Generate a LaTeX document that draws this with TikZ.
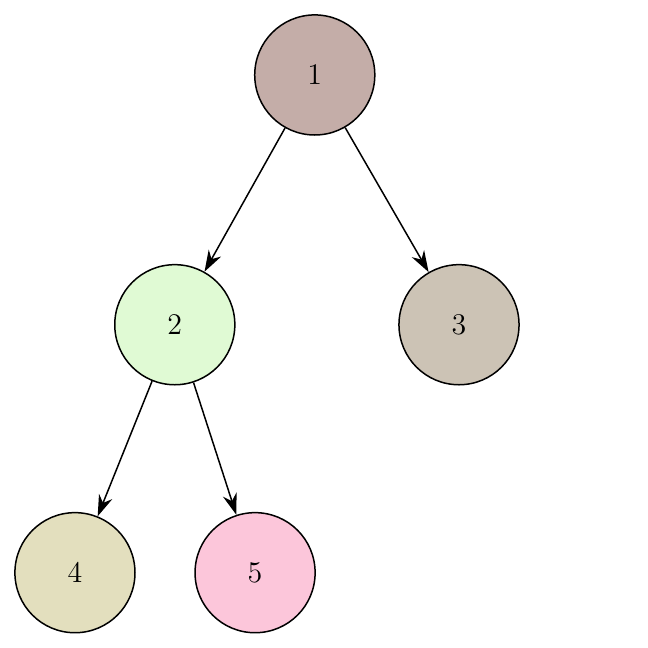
\documentclass[tikz,border=0pt]{standalone}
\usetikzlibrary{arrows.meta, positioning}
\definecolor{nodeA}{HTML}{C4ADA8}
\definecolor{nodeB}{HTML}{E0FAD4}
\definecolor{nodeC}{HTML}{CCC3B5}
\definecolor{nodeD}{HTML}{E3DFBE}
\definecolor{nodeE}{HTML}{FCC6DA}
\begin{document}
\begin{tikzpicture}[
  vtx/.style={circle, draw=black, line width=0.6pt, minimum size=1.69cm,
              inner sep=0pt, font=\large},
  edg/.style={-{Stealth[length=3mm, width=2mm]}, line width=0.6pt}]
  \useasboundingbox (0,0) rectangle (9.12,-9.12);
  % tree
  \node[vtx, fill=nodeA] (n1) at (4.43,-1.055) {1};
  \node[vtx, fill=nodeB] (n2) at (2.46,-4.57) {2};
  \node[vtx, fill=nodeC] (n3) at (6.46,-4.57) {3};
  \node[vtx, fill=nodeD] (n4) at (1.055,-8.06) {4};
  \node[vtx, fill=nodeE] (n5) at (3.59,-8.06) {5};
  \draw[edg] (n1) -- (n2);
  \draw[edg] (n1) -- (n3);
  \draw[edg] (n2) -- (n4);
  \draw[edg] (n2) -- (n5);
\end{tikzpicture}
\end{document}
